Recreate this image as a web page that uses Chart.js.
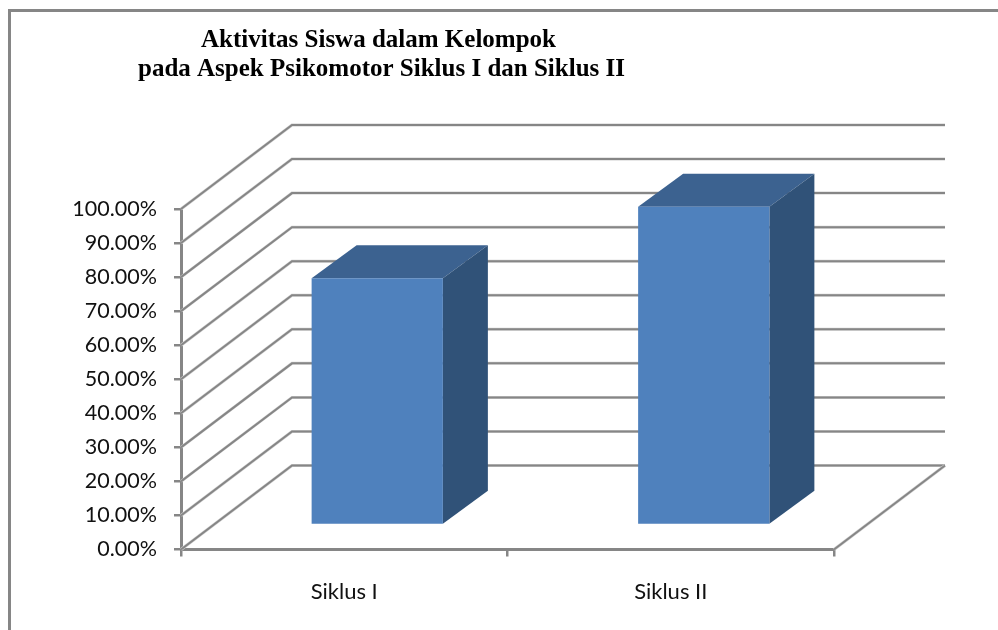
<!DOCTYPE html>
<html>
<head>
<meta charset="utf-8">
<title>Aktivitas Siswa dalam Kelompok</title>
<script src="https://cdn.jsdelivr.net/npm/chart.js@4"></script>
<style>
    html, body { margin: 0; padding: 0; background: #fff; }
    #wrap { position: relative; width: 998px; height: 630px; }
</style>
</head>
<body>
<div id="wrap"><canvas id="grafik" width="998" height="630"></canvas></div>
<script>
// Data grafik
const kategori = ['Siklus I', 'Siklus II'];
const nilaiSiswa = [72.5, 93.5];
const judul = ['Aktivitas Siswa dalam Kelompok', 'pada Aspek Psikomotor Siklus I dan Siklus II'];
const tickMaks = 100;
const tickLangkah = 10;

const warnaGaris = '#868686';
const warnaDepan = '#4f81bd';
const warnaAtas = '#3c6290';
const warnaSamping = '#305278';

// Kedalaman dinding belakang dan kedalaman batang
const dinding = { dx: 111, dy: 84 };
const geser = { dx: 33, dy: 24.5 };
const batang = { dx: 45, dy: 33 };

function garis(ctx, titik) {
    ctx.beginPath();
    titik.forEach((p, i) => i ? ctx.lineTo(p[0], p[1]) : ctx.moveTo(p[0], p[1]));
    ctx.strokeStyle = '#cfcfcf';
    ctx.lineWidth = 3;
    ctx.stroke();
    ctx.strokeStyle = warnaGaris;
    ctx.lineWidth = 2;
    ctx.stroke();
}

function poligon(ctx, titik, warna) {
    ctx.beginPath();
    titik.forEach((p, i) => i ? ctx.lineTo(p[0], p[1]) : ctx.moveTo(p[0], p[1]));
    ctx.closePath();
    ctx.fillStyle = warna;
    ctx.fill();
}

// Dinding samping, dinding belakang dan lantai
const dinding3d = {
    id: 'dinding3d',
    beforeDatasetsDraw(chart) {
        const { ctx, chartArea, scales } = chart;
        const kiri = chartArea.left;
        const kanan = chartArea.right;
        ctx.save();
        scales.y.ticks.forEach(t => {
            const y = scales.y.getPixelForValue(t.value);
            garis(ctx, [[kiri, y], [kiri + dinding.dx, y - dinding.dy], [kanan + dinding.dx, y - dinding.dy]]);
        });
        const y0 = scales.y.getPixelForValue(0);
        garis(ctx, [[kanan, y0], [kanan + dinding.dx, y0 - dinding.dy]]);
        ctx.restore();
    }
};

// Batang berdiri di tengah lantai, sisi atas dan sampingnya mengikuti elemen batang
const batang3d = {
    id: 'batang3d',
    beforeDatasetDraw(chart, args) {
        const { ctx } = chart;
        ctx.save();
        ctx.translate(geser.dx, -geser.dy);
        args.meta.data.forEach(el => {
            const { x, y, base, width } = el.getProps(['x', 'y', 'base', 'width'], true);
            const kiri = x - width / 2;
            const kanan = x + width / 2;
            poligon(ctx, [[kiri, y], [kiri + batang.dx, y - batang.dy], [kanan + batang.dx, y - batang.dy], [kanan, y]], warnaAtas);
            poligon(ctx, [[kanan, y], [kanan + batang.dx, y - batang.dy], [kanan + batang.dx, base - batang.dy], [kanan, base]], warnaSamping);
        });
    },
    afterDatasetDraw(chart) {
        chart.ctx.restore();
    }
};

// Bingkai kiri-atas dan dua baris judul
const bingkaiJudul = {
    id: 'bingkaiJudul',
    beforeDraw(chart) {
        const { ctx } = chart;
        ctx.save();
        ctx.strokeStyle = warnaGaris;
        ctx.lineWidth = 3;
        ctx.beginPath();
        ctx.moveTo(9.5, 630);
        ctx.lineTo(9.5, 10.5);
        ctx.lineTo(998, 10.5);
        ctx.stroke();
        ctx.fillStyle = '#000';
        ctx.font = 'bold 25px "Liberation Serif"';
        ctx.textAlign = 'center';
        ctx.textBaseline = 'alphabetic';
        ctx.fillText(judul[0], 378.5, 47);
        ctx.fillText(judul[1], 381.5, 76);
        ctx.restore();
    }
};

new Chart(document.getElementById('grafik').getContext('2d'), {
    type: 'bar',
    data: {
        labels: kategori,
        datasets: [{
            data: nilaiSiswa,
            backgroundColor: warnaDepan,
            borderWidth: 0,
            categoryPercentage: 1,
            barPercentage: 0.402
        }]
    },
    options: {
        responsive: false,
        animation: false,
        layout: { padding: { top: 209, right: 164, left: 0, bottom: 0 } },
        plugins: {
            legend: { display: false },
            title: { display: false },
            tooltip: { enabled: false }
        },
        scales: {
            x: {
                afterFit(scale) { scale.height = 80.5; },
                grid: { drawOnChartArea: false, color: warnaGaris, lineWidth: 2.5, tickLength: 7 },
                border: { color: warnaGaris, width: 3 },
                ticks: { color: '#111', padding: 22, font: { family: 'Lato', size: 22 } }
            },
            y: {
                min: 0,
                max: tickMaks,
                afterFit(scale) { scale.width = 181; },
                grid: { drawOnChartArea: false, color: warnaGaris, lineWidth: 2.5, tickLength: 7 },
                border: { color: warnaGaris, width: 3 },
                ticks: {
                    stepSize: tickLangkah,
                    color: '#111',
                    padding: 17,
                    font: { family: 'Lato', size: 21.5 },
                    callback: v => v.toFixed(2) + '%'
                }
            }
        }
    },
    plugins: [bingkaiJudul, dinding3d, batang3d]
});
</script>
</body>
</html>
